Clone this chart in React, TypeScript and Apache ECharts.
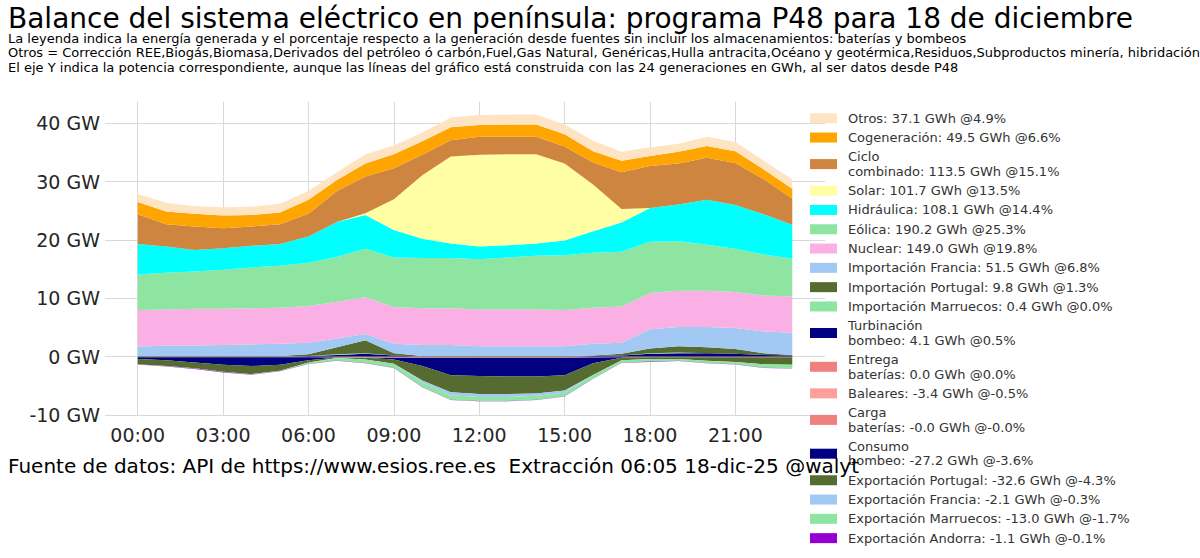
import React, { useEffect, useRef } from "react";
import * as echarts from "echarts";

const HOURS = ["00:00","01:00","02:00","03:00","04:00","05:00","06:00","07:00","08:00","09:00","10:00","11:00","12:00","13:00","14:00","15:00","16:00","17:00","18:00","19:00","20:00","21:00","22:00","23:00"];
const X_TICKS = [0, 3, 6, 9, 12, 15, 18, 21];
const Y_TICKS = [-10, 0, 10, 20, 30, 40];

const TITLE = "Balance del sistema eléctrico en península: programa P48 para 18 de diciembre";
const SUBTITLE = [
  "La leyenda indica la energía generada y el porcentaje respecto a la generación desde fuentes sin incluir los almacenamientos: baterías y bombeos",
  "Otros = Corrección REE,Biogás,Biomasa,Derivados del petróleo ó carbón,Fuel,Gas Natural, Genéricas,Hulla antracita,Océano y geotérmica,Residuos,Subproductos minería, hibridación",
  "El eje Y indica la potencia correspondiente, aunque las líneas del gráfico está construida con las 24 generaciones en GWh, al ser datos desde P48",
];
const FOOTER = "Fuente de datos: API de https://www.esios.ree.es  Extracción 06:05 18-dic-25 @walyt";

// GW per hour (positive stack, bottom -> top)
const ENTREGA_BAT = [0,0,0,0,0,0,0,0,0,0,0,0,0,0,0,0,0,0,0,0,0,0,0,0];
const TURBINACION = [0,0,0,0,0,0,0.1,0.3,0.5,0.2,0,0,0,0,0,0,0.1,0.2,0.5,0.6,0.6,0.5,0.3,0.2];
const IMP_MARRUECOS = [0,0,0,0,0,0,0,0.1,0.1,0,0,0,0,0,0,0,0,0,0.1,0.1,0,0,0,0];
const IMP_PORTUGAL = [0.1,0.1,0.1,0.1,0.1,0.1,0.3,1.2,2.2,0.4,0.1,0.1,0.1,0.1,0.1,0.1,0.1,0.3,0.8,1.1,1.0,0.8,0.3,0.1];
const IMP_FRANCIA = [1.6,1.8,1.8,1.9,2.0,2.1,2.0,1.5,1.1,1.6,1.9,1.9,1.7,1.7,1.7,1.7,2.0,1.9,3.3,3.3,3.5,3.6,3.7,3.8];
const NUCLEAR = [6.3,6.2,6.3,6.2,6.2,6.2,6.3,6.3,6.3,6.3,6.3,6.3,6.3,6.3,6.3,6.2,6.2,6.2,6.2,6.2,6.2,6.2,6.2,6.2];
const EOLICA = [6.1,6.3,6.4,6.7,7.0,7.2,7.4,7.7,8.3,8.5,8.6,8.6,8.6,8.9,9.2,9.4,9.4,9.4,8.8,8.5,7.9,7.4,7.0,6.5];
const HIDRAULICA = [5.2,4.5,3.7,3.7,3.7,3.7,4.5,6.0,5.8,4.7,3.3,2.5,2.2,2.1,2.1,2.5,3.7,5.0,5.8,6.3,7.7,7.5,6.9,5.8];
const SOLAR = [0,0,0,0,0,0,0,0,0.3,5.3,10.9,14.9,15.7,15.6,15.3,13.2,8.0,2.3,0,0,0,0,0,0];
const CICLO = [5.1,3.8,4.0,3.4,3.3,3.4,3.9,5.3,6.3,5.3,3.5,2.8,3.1,3.0,3.0,2.9,3.8,6.3,7.2,7.0,7.2,7.2,6.0,4.5];
const COGEN = [2.1,2.2,2.2,2.2,2.0,2.0,2.4,1.9,2.2,2.4,2.3,2.2,2.0,2.1,2.1,2.1,1.9,2.0,1.7,2.0,2.0,2.0,1.7,1.7];
const OTROS = [1.4,1.5,1.3,1.4,1.4,1.5,1.5,1.3,1.6,1.5,1.5,1.7,1.7,1.7,1.7,1.7,1.8,1.5,1.5,1.4,1.6,1.6,1.5,1.6];

// GW per hour (negative stack, top -> bottom)
const BALEARES = [-0.1,-0.1,-0.1,-0.1,-0.1,-0.1,-0.1,-0.15,-0.2,-0.2,-0.2,-0.2,-0.2,-0.2,-0.2,-0.2,-0.15,-0.1,-0.1,-0.1,-0.1,-0.1,-0.1,-0.1];
const CARGA_BAT = [0,0,0,0,0,0,0,0,0,0,0,0,0,0,0,0,0,0,0,0,0,0,0,0];
const CONSUMO_BOMBEO = [-0.3,-0.5,-0.9,-1.3,-1.5,-1.3,-0.5,0,0,-0.3,-1.4,-3.0,-3.1,-3.2,-3.2,-3.0,-1.0,-0.1,0,0,0,0,0,0];
const EXP_PORTUGAL = [-0.9,-1.0,-1.0,-1.2,-1.4,-1.0,-0.4,-0.1,-0.3,-0.7,-2.5,-2.9,-3.1,-3.0,-2.9,-2.6,-2.0,-0.4,-0.3,-0.3,-0.6,-0.8,-1.2,-1.3];
const EXP_FRANCIA = [0,0,0,0,0,0,0,0,0,0,-0.3,-0.5,-0.5,-0.5,-0.4,-0.4,0,0,0,0,0,0,0,0];
const EXP_MARRUECOS = [0,-0.05,-0.05,-0.05,-0.05,-0.05,-0.2,-0.4,-0.6,-0.7,-0.8,-0.8,-0.7,-0.7,-0.7,-0.6,-0.6,-0.4,-0.45,-0.3,-0.4,-0.4,-0.6,-0.6];
const EXP_ANDORRA = [-0.05,-0.05,-0.05,-0.05,-0.05,-0.05,-0.05,-0.05,-0.05,-0.05,-0.05,-0.05,-0.05,-0.05,-0.05,-0.05,-0.05,-0.05,-0.05,-0.05,-0.05,-0.05,-0.05,-0.05];

// legend labels (top -> bottom as shown)
const L_OTROS = "Otros: 37.1 GWh @4.9%";
const L_COGEN = "Cogeneración: 49.5 GWh @6.6%";
const L_CICLO = "Ciclo\ncombinado: 113.5 GWh @15.1%";
const L_SOLAR = "Solar: 101.7 GWh @13.5%";
const L_HIDR = "Hidráulica: 108.1 GWh @14.4%";
const L_EOL = "Eólica: 190.2 GWh @25.3%";
const L_NUC = "Nuclear: 149.0 GWh @19.8%";
const L_IFR = "Importación Francia: 51.5 GWh @6.8%";
const L_IPT = "Importación Portugal: 9.8 GWh @1.3%";
const L_IMA = "Importación Marruecos: 0.4 GWh @0.0%";
const L_TURB = "Turbinación\nbombeo: 4.1 GWh @0.5%";
const L_ENT = "Entrega\nbaterías: 0.0 GWh @0.0%";
const L_BAL = "Baleares: -3.4 GWh @-0.5%";
const L_CAR = "Carga\nbaterías: -0.0 GWh @-0.0%";
const L_CONS = "Consumo\nbombeo: -27.2 GWh @-3.6%";
const L_EPT = "Exportación Portugal: -32.6 GWh @-4.3%";
const L_EFR = "Exportación Francia: -2.1 GWh @-0.3%";
const L_EMA = "Exportación Marruecos: -13.0 GWh @-1.7%";
const L_EAN = "Exportación Andorra: -1.1 GWh @-0.1%";

const LEGEND_ORDER = [L_OTROS, L_COGEN, L_CICLO, L_SOLAR, L_HIDR, L_EOL, L_NUC, L_IFR, L_IPT, L_IMA, L_TURB, L_ENT, L_BAL, L_CAR, L_CONS, L_EPT, L_EFR, L_EMA, L_EAN];

const FONT = "DejaVu Sans";

export default function App() {
  const ref = useRef<HTMLDivElement>(null);
  useEffect(() => {
    document.body.style.margin = "0";
    const chart = echarts.init(ref.current!, null, { renderer: "svg" });

    // value first (column 0 -> y, stacked), hour index second (column 1 -> x)
    const mk = (name: string, data: number[], color: string, stack: string) => ({
      type: "line",
      name,
      stack,
      data: data.map((v, i) => [v, i]),
      encode: { x: 1, y: 0 },
      symbol: "none",
      showSymbol: false,
      lineStyle: { width: 0 },
      itemStyle: { color },
      areaStyle: { color, opacity: 1 },
      emphasis: { disabled: true },
      silent: true,
    });

    const series = [
      mk(L_ENT, ENTREGA_BAT, "#f08080", "pos"),
      mk(L_TURB, TURBINACION, "#000080", "pos"),
      mk(L_IMA, IMP_MARRUECOS, "#8de5a1", "pos"),
      mk(L_IPT, IMP_PORTUGAL, "#556b2f", "pos"),
      mk(L_IFR, IMP_FRANCIA, "#a1c9f4", "pos"),
      mk(L_NUC, NUCLEAR, "#fab0e4", "pos"),
      mk(L_EOL, EOLICA, "#8de5a1", "pos"),
      mk(L_HIDR, HIDRAULICA, "#00ffff", "pos"),
      mk(L_SOLAR, SOLAR, "#fffea3", "pos"),
      mk(L_CICLO, CICLO, "#cd853f", "pos"),
      mk(L_COGEN, COGEN, "#ffa500", "pos"),
      mk(L_OTROS, OTROS, "#ffe4c4", "pos"),
      mk(L_BAL, BALEARES, "#ff9f9b", "neg"),
      mk(L_CAR, CARGA_BAT, "#f08080", "neg"),
      mk(L_CONS, CONSUMO_BOMBEO, "#000080", "neg"),
      mk(L_EPT, EXP_PORTUGAL, "#556b2f", "neg"),
      mk(L_EFR, EXP_FRANCIA, "#a1c9f4", "neg"),
      mk(L_EMA, EXP_MARRUECOS, "#8de5a1", "neg"),
      mk(L_EAN, EXP_ANDORRA, "#9400d3", "neg"),
    ];

    const textColor = "#262626";
    chart.setOption({
      animation: false,
      backgroundColor: "#ffffff",
      textStyle: { fontFamily: FONT },
      grid: { left: 105, right: 375, top: 101.7, bottom: 143, containLabel: false },
      xAxis: {
        type: "value",
        min: -1.15,
        max: 24.15,
        axisLine: { show: false },
        axisTick: { show: false, customValues: X_TICKS },
        axisLabel: {
          customValues: X_TICKS,
          formatter: (v: number) => HOURS[v] ?? "",
          fontSize: 19,
          color: textColor,
          fontFamily: FONT,
          margin: 10,
        },
        splitLine: { show: true, lineStyle: { color: "#d9d9d9", width: 1 } },
      },
      yAxis: {
        type: "value",
        min: -10,
        max: 43.7,
        axisLine: { show: false },
        axisTick: { show: false, customValues: Y_TICKS },
        axisLabel: {
          customValues: Y_TICKS,
          formatter: (v: number) => `${v} GW`,
          fontSize: 19,
          color: textColor,
          fontFamily: FONT,
          margin: 5,
        },
        splitLine: { show: true, lineStyle: { color: "#d9d9d9", width: 1 } },
      },
      legend: {
        orient: "vertical",
        left: 810,
        top: 111,
        padding: 0,
        itemGap: 4.8,
        itemWidth: 27,
        itemHeight: 10,
        icon: "rect",
        selectedMode: false,
        data: LEGEND_ORDER,
        textStyle: { fontSize: 13, lineHeight: 14.5, color: "#333333", fontFamily: FONT, padding: [0, 0, 0, 6] },
      },
      graphic: [
        { type: "text", left: 8, top: 4, z: 100, style: { text: TITLE, fontSize: 28, fontFamily: FONT, fill: "#000" } },
        { type: "text", left: 8, top: 31, z: 100, style: { text: SUBTITLE.join("\n"), fontSize: 13, lineHeight: 14.6, fontFamily: FONT, fill: "#000" } },
        { type: "text", left: 8, top: 456, z: 100, style: { text: FOOTER, fontSize: 20, fontFamily: FONT, fill: "#000" } },
      ],
      series,
    });
    return () => chart.dispose();
  }, []);
  return <div ref={ref} style={{ width: 1200, height: 558 }} />;
}
